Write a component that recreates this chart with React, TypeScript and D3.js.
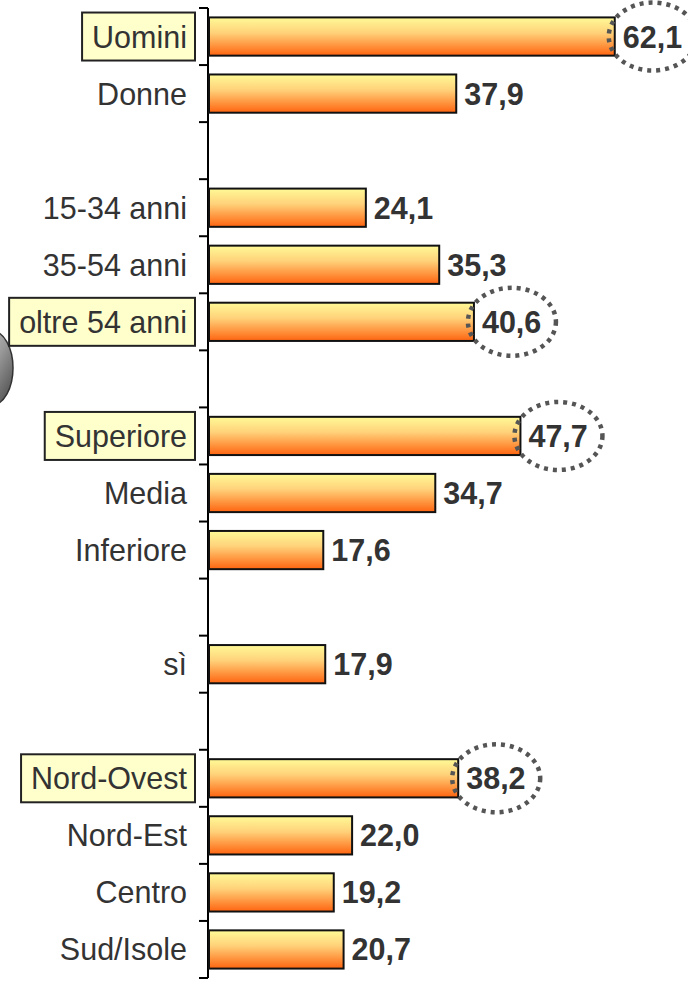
import React, { useEffect, useRef } from "react";
import * as d3 from "d3";

const categories = [
  "Uomini", "Donne", "",
  "15-34 anni", "35-54 anni", "oltre 54 anni", "",
  "Superiore", "Media", "Inferiore", "",
  "sì", "",
  "Nord-Ovest", "Nord-Est", "Centro", "Sud/Isole",
];
const values: (number | null)[] = [
  62.1, 37.9, null,
  24.1, 35.3, 40.6, null,
  47.7, 34.7, 17.6, null,
  17.9, null,
  38.2, 22.0, 19.2, 20.7,
];
const highlighted = ["Uomini", "oltre 54 anni", "Superiore", "Nord-Ovest"];

const W = 688;
const H = 988;

export default function App() {
  const ref = useRef<SVGSVGElement>(null);

  useEffect(() => {
    const svg = d3.select(ref.current);
    svg.selectAll("*").remove();

    const axisX = 208;
    const x = d3.scaleLinear().domain([0, 100]).range([axisX, axisX + 655]);
    const idx = categories.map((_, i) => String(i));
    const y = d3.scaleBand().domain(idx).range([8, 978]).paddingInner(0.33).paddingOuter(0.165);
    const step = y.step();
    const fmt = (v: number) => d3.format(".1f")(v).replace(".", ",");

    const defs = svg.append("defs");
    const g = defs.append("linearGradient").attr("id", "barGrad").attr("x1", 0).attr("y1", 0).attr("x2", 0).attr("y2", 1);
    g.append("stop").attr("offset", "0%").attr("stop-color", "#FFFA96");
    g.append("stop").attr("offset", "40%").attr("stop-color", "#FFD27A");
    g.append("stop").attr("offset", "100%").attr("stop-color", "#FF6410");

    const bg = defs.append("linearGradient").attr("id", "blobGrad").attr("x1", 0).attr("y1", 0).attr("x2", 1).attr("y2", 1);
    bg.append("stop").attr("offset", "0%").attr("stop-color", "#d8d8d8");
    bg.append("stop").attr("offset", "50%").attr("stop-color", "#999999");
    bg.append("stop").attr("offset", "100%").attr("stop-color", "#444444");

    // partial clip-art blob at the left edge
    svg.append("ellipse")
      .attr("cx", -8).attr("cy", 368).attr("rx", 21).attr("ry", 37)
      .attr("fill", "url(#blobGrad)").attr("stroke", "#333").attr("stroke-width", 1.5);

    const font = "'Liberation Sans', Arial, sans-serif";
    const fs = 30.5;

    // axis
    svg.append("line")
      .attr("x1", axisX).attr("x2", axisX)
      .attr("y1", y.range()[0]).attr("y2", y.range()[1])
      .attr("stroke", "#000").attr("stroke-width", 2);
    d3.range(categories.length + 1).forEach((k) => {
      const ty = y.range()[0] + k * step;
      svg.append("line")
        .attr("x1", axisX - 9).attr("x2", axisX)
        .attr("y1", ty).attr("y2", ty)
        .attr("stroke", "#000").attr("stroke-width", 2);
    });

    categories.forEach((c, i) => {
      const v = values[i];
      if (!c) return;
      const cy = (y(String(i)) as number) + y.bandwidth() / 2;
      const isHi = highlighted.includes(c);

      // label
      const labelG = svg.append("g");
      const t = labelG.append("text")
        .attr("x", 187).attr("y", cy)
        .attr("text-anchor", "end").attr("dominant-baseline", "central")
        .attr("font-family", font).attr("font-size", fs)
        .attr("fill", "#333").text(c);
      if (isHi) {
        const bb = (t.node() as SVGTextElement).getBBox();
        labelG.insert("rect", "text")
          .attr("x", bb.x - 10).attr("y", cy - 24)
          .attr("width", 195 - (bb.x - 10)).attr("height", 48)
          .attr("fill", "#FFFFCC").attr("stroke", "#222").attr("stroke-width", 2);
      }

      if (v == null) return;
      const x1 = x(v);
      svg.append("rect")
        .attr("x", axisX + 1).attr("y", y(String(i)) as number)
        .attr("width", x1 - axisX - 1).attr("height", y.bandwidth())
        .attr("fill", "url(#barGrad)").attr("stroke", "#111").attr("stroke-width", 2);

      svg.append("text")
        .attr("x", x1 + 8).attr("y", cy)
        .attr("dominant-baseline", "central")
        .attr("font-family", font).attr("font-size", fs).attr("font-weight", "bold")
        .attr("fill", "#333").text(fmt(v));

      if (isHi) {
        svg.append("ellipse")
          .attr("cx", x1 + 38).attr("cy", cy)
          .attr("rx", 44).attr("ry", 34)
          .attr("fill", "none").attr("stroke", "#555").attr("stroke-width", 4.5)
          .attr("stroke-dasharray", "4 5");
      }
    });
  }, []);

  return (
    <svg
      ref={ref}
      width={W}
      height={H}
      style={{ position: "absolute", left: 0, top: 0, background: "#fff" }}
    />
  );
}
